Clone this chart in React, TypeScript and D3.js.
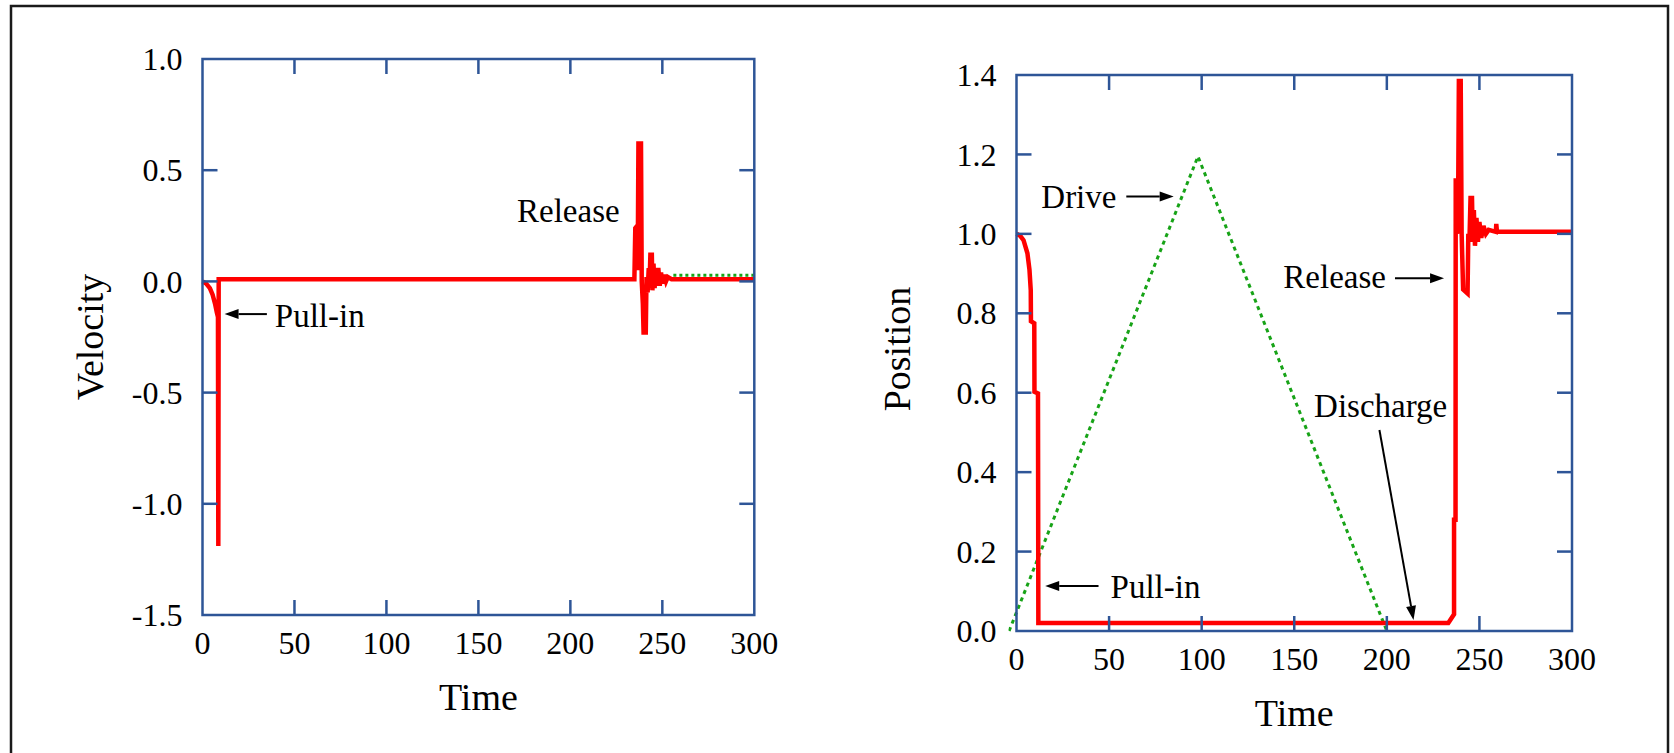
import React from "react";
import * as d3 from "d3";

// ---- data ----
const timeTicks = [0, 50, 100, 150, 200, 250, 300];
const velocityTicks = [-1.5, -1.0, -0.5, 0.0, 0.5, 1.0];
const positionTicks = [0.0, 0.2, 0.4, 0.6, 0.8, 1.0, 1.2, 1.4];

// velocity of the switch (red)
const velocity: [number, number][] = [
  [0, 0], [2, -0.01], [4, -0.03], [5.5, -0.06], [6.8, -0.1], [7.8, -0.14], [8.4, -0.16],
  [8.6, -1.19], [8.8, 0.01], [234.8, 0.01], [235.3, 0.24], [236.3, 0.25], [236.6, 0.05],
  [237.0, 0.62], [238.4, 0.62], [238.8, 0.0], [239.4, -0.1], [239.8, -0.23], [241.0, -0.23],
  [241.4, 0.02], [242.0, -0.05], [242.6, 0.06], [243.0, -0.02], [243.5, 0.12], [244.3, 0.12],
  [244.6, -0.04], [245.2, 0.08], [245.8, -0.03], [246.3, 0.05], [247.0, -0.02], [247.8, 0.06],
  [248.6, -0.02], [249.3, 0.04], [250.0, -0.01], [251.0, 0.03], [252.0, 0.0], [253.0, 0.02],
  [255.0, 0.01], [300, 0.01],
];
// drive velocity (green dotted, only visible part)
const velocityDrive: [number, number][] = [[256, 0.028], [300, 0.028]];

// position of the switch (red)
const position: [number, number][] = [
  [0, 1.0], [2, 0.995], [3.8, 0.984], [5.9, 0.951], [7.0, 0.91], [7.7, 0.858], [7.8, 0.78],
  [9.6, 0.775], [9.7, 0.602], [11.6, 0.598], [11.8, 0.02], [233.2, 0.02], [236.3, 0.042],
  [236.3, 0.28], [237.1, 0.28], [237.2, 1.14], [237.6, 1.0], [238.0, 1.14], [238.4, 1.0],
  [238.9, 1.385], [239.9, 1.385], [240.4, 1.0], [241.2, 0.86], [243.6, 0.85], [244.0, 1.0],
  [244.6, 0.98], [245.2, 1.09], [246.0, 1.09], [246.4, 0.98], [247.0, 1.06], [247.6, 0.97],
  [248.4, 1.04], [249.2, 0.98], [250.0, 1.03], [251.0, 0.99], [252.2, 1.02], [253.5, 1.0],
  [255.0, 1.01], [258.9, 1.005], [259.1, 1.025], [259.5, 1.005], [300, 1.005],
];
// drive signal (green dotted)
const drive: [number, number][] = [[-4, 0], [98, 1.195], [200, 0]];

// annotations in data units: text anchor point, optional arrow [fromT, fromV, toT, toV]
type Note = { text: string; t: number; v: number; arrow?: [number, number, number, number] };
const velocityNotes: Note[] = [
  { text: "Release", t: 171, v: 0.268 },
  { text: "Pull-in", t: 39.3, v: -0.206, arrow: [35, -0.147, 12, -0.147] },
];
const positionNotes: Note[] = [
  { text: "Drive", t: 13.4, v: 1.066, arrow: [59.3, 1.094, 84.9, 1.094] },
  { text: "Release", t: 144.1, v: 0.863, arrow: [204.4, 0.888, 230.9, 0.888] },
  { text: "Discharge", t: 160.7, v: 0.54, arrow: [196, 0.506, 214.4, 0.028] },
  { text: "Pull-in", t: 50.8, v: 0.084, arrow: [44.3, 0.113, 15.5, 0.113] },
];

const FONT = "'Liberation Serif', 'Times New Roman', serif";
const FRAME = "#2E5597";
const RED = "#ff0000";
const GREEN = "#17a317";

function Arrow({ x1, y1, x2, y2 }: { x1: number; y1: number; x2: number; y2: number }) {
  const a = Math.atan2(y2 - y1, x2 - x1);
  const len = 14, hw = 5;
  const bx = x2 - len * Math.cos(a), by = y2 - len * Math.sin(a);
  const px = -Math.sin(a) * hw, py = Math.cos(a) * hw;
  return (
    <g>
      <line x1={x1} y1={y1} x2={bx} y2={by} stroke="#000" strokeWidth={2} />
      <polygon points={`${x2},${y2} ${bx + px},${by + py} ${bx - px},${by - py}`} fill="#000" />
    </g>
  );
}

function Panel(props: {
  left: number; right: number; top: number; bottom: number;
  yDomain: [number, number]; yTicks: number[]; yTitle: string; yTitleX: number; yTitleY: number;
  xTitleY: number; red: [number, number][]; green: [number, number][]; dash: string; notes: Note[];
}) {
  const { left, right, top, bottom } = props;
  const x = d3.scaleLinear().domain([0, 300]).range([left, right]);
  const y = d3.scaleLinear().domain(props.yDomain).range([bottom, top]);
  const line = d3.line<[number, number]>().x(d => x(d[0])).y(d => y(d[1]));
  const tick = 15;
  const innerX = timeTicks.slice(1, -1);
  const innerY = props.yTicks.slice(1, -1);
  return (
    <g>
      <defs>
        <clipPath id={`clip-${left}`}>
          <rect x={left - 8} y={top - 4} width={right - left + 10} height={bottom - top + 8} />
        </clipPath>
      </defs>
      <g clipPath={`url(#clip-${left})`}>
        <path d={line(props.green) || ""} fill="none" stroke={GREEN} strokeWidth={3} strokeDasharray={props.dash} />
        <path d={line(props.red) || ""} fill="none" stroke={RED} strokeWidth={4.5} strokeLinejoin="miter" />
      </g>
      <rect x={left} y={top} width={right - left} height={bottom - top} fill="none" stroke={FRAME} strokeWidth={2.5} />
      {innerX.map(t => (
        <g key={"xt" + t}>
          <line x1={x(t)} x2={x(t)} y1={bottom} y2={bottom - tick} stroke={FRAME} strokeWidth={2.5} />
          <line x1={x(t)} x2={x(t)} y1={top} y2={top + tick} stroke={FRAME} strokeWidth={2.5} />
        </g>
      ))}
      {innerY.map(v => (
        <g key={"yt" + v}>
          <line x1={left} x2={left + tick} y1={y(v)} y2={y(v)} stroke={FRAME} strokeWidth={2.5} />
          <line x1={right} x2={right - tick} y1={y(v)} y2={y(v)} stroke={FRAME} strokeWidth={2.5} />
        </g>
      ))}
      {timeTicks.map(t => (
        <text key={"xl" + t} x={x(t)} y={bottom + 39} textAnchor="middle" fontSize={32} fontFamily={FONT}>{t}</text>
      ))}
      {props.yTicks.map(v => (
        <text key={"yl" + v} x={left - 20} y={y(v)} dy="0.35em" textAnchor="end" fontSize={32} fontFamily={FONT}>{v.toFixed(1)}</text>
      ))}
      <text x={(left + right) / 2} y={props.xTitleY} textAnchor="middle" fontSize={38} fontFamily={FONT}>Time</text>
      <text transform={`translate(${props.yTitleX},${props.yTitleY}) rotate(-90)`} textAnchor="middle" fontSize={38} fontFamily={FONT}>{props.yTitle}</text>
      {props.notes.map(n => (
        <g key={n.text}>
          <text x={x(n.t)} y={y(n.v)} fontSize={33} fontFamily={FONT}>{n.text}</text>
          {n.arrow && <Arrow x1={x(n.arrow[0])} y1={y(n.arrow[1])} x2={x(n.arrow[2])} y2={y(n.arrow[3])} />}
        </g>
      ))}
    </g>
  );
}

export default function App() {
  return (
    <svg width={1674} height={753} style={{ position: "absolute", left: 0, top: 0, background: "#fff" }}>
      <rect x={11} y={6} width={1657} height={770} fill="none" stroke="#1a1a1a" strokeWidth={2.5} />
      <Panel left={202.5} right={754.3} top={59} bottom={615} yDomain={[-1.5, 1.0]} yTicks={velocityTicks}
        yTitle="Velocity" yTitleX={103} yTitleY={337} xTitleY={710}
        red={velocity} green={velocityDrive} dash="3 3" notes={velocityNotes} />
      <Panel left={1016.5} right={1572} top={75} bottom={631} yDomain={[0, 1.4]} yTicks={positionTicks}
        yTitle="Position" yTitleX={910} yTitleY={349} xTitleY={726}
        red={position} green={drive} dash="4 4" notes={positionNotes} />
    </svg>
  );
}
